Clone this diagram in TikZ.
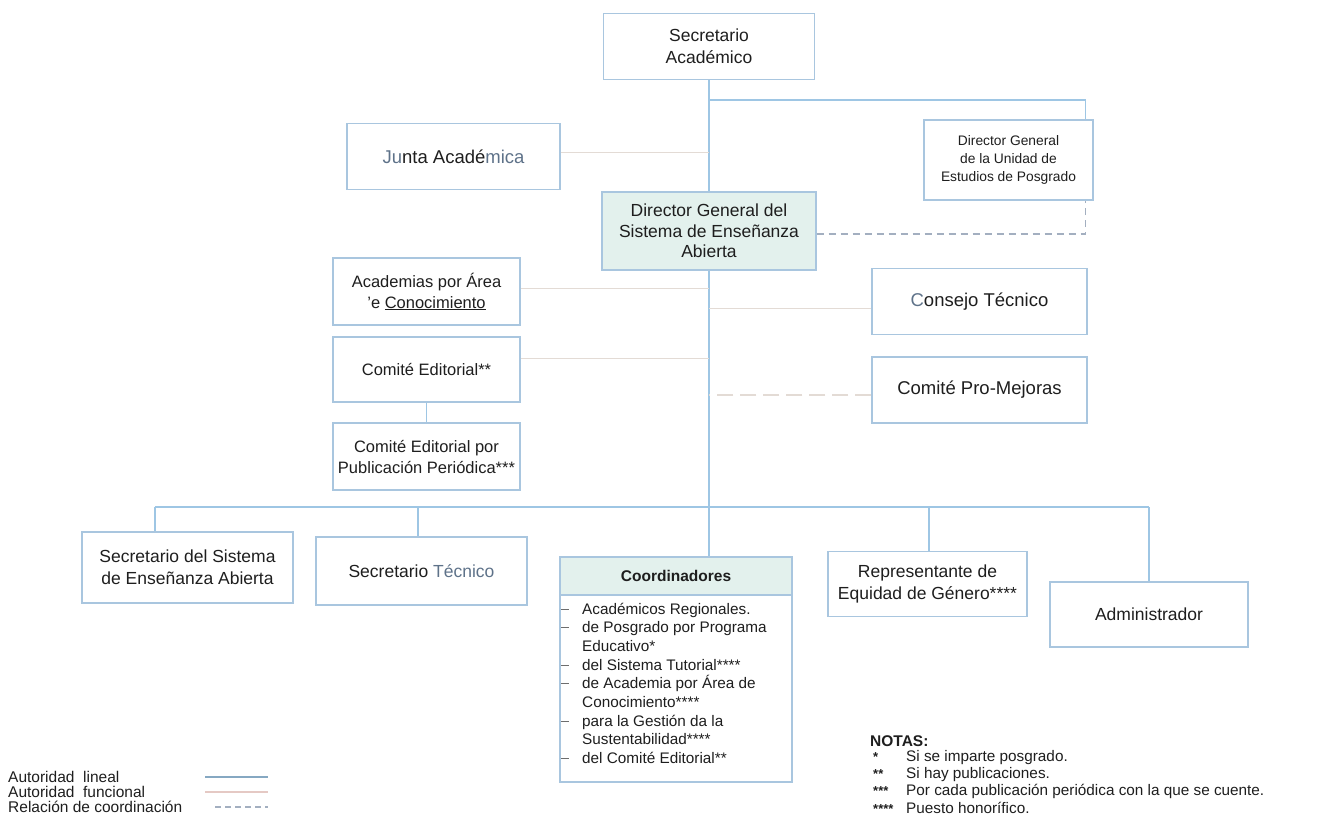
\documentclass[tikz,border=0pt]{standalone}
\usepackage{fontspec}
\setmainfont{Liberation Sans}
\definecolor{boxc}{HTML}{A9C6DF}
\definecolor{linec}{HTML}{9EC6E4}
\definecolor{func}{HTML}{E3DBD5}
\definecolor{coordc}{HTML}{A3AFC0}
\definecolor{fillc}{HTML}{E3F1ED}
\definecolor{txt}{HTML}{1E1E1E}
\definecolor{slate}{HTML}{5E7289}
\begin{document}
\begin{tikzpicture}[x=1pt,y=-1pt,
  box/.style={draw=boxc,line width=1.3pt,align=center,inner sep=0pt,text=txt,
    font=\fontsize{17.5}{22}\selectfont},
  lin/.style={draw=linec,line width=1.6pt},
  fun/.style={draw=func,line width=1.3pt},
  crd/.style={draw=coordc,line width=1.3pt,dash pattern=on 7pt off 5pt},
  lab/.style={inner sep=0pt,anchor=base west,text=txt}]
\useasboundingbox (0,0) rectangle (1341,822);
% boxes
\node[box,minimum width=211pt,minimum height=66pt] (sa) at (709,46.5) {Secretario\\Académico};
\node[box,minimum width=213pt,minimum height=66pt,font=\fontsize{18.5}{22}\selectfont] (ja) at (453.5,156.5) {\textcolor{slate}{Ju}nta Acadé\textcolor{slate}{mica}};
\node[box,minimum width=169pt,minimum height=80pt,font=\fontsize{13.8}{18}\selectfont] (dp) at (1008.5,160) {Director General\\de la Unidad de\\Estudios de Posgrado};
\node[box,fill=fillc,minimum width=214pt,minimum height=78pt,font=\fontsize{17.5}{20.5}\selectfont] (ds) at (709,231) {Director General del\\Sistema de Enseñanza\\Abierta};
\node[box,minimum width=187pt,minimum height=67pt,font=\fontsize{16.5}{21}\selectfont] (ac) at (426.5,291.5) {Academias por Área\\’e \underline{Conocimiento}};
\node[box,minimum width=187pt,minimum height=65pt,font=\fontsize{16.5}{21}\selectfont] (ce) at (426.5,369.5) {Comité Editorial**};
\node[box,minimum width=187pt,minimum height=67pt,font=\fontsize{16.5}{21}\selectfont] (cp) at (426.5,456.5) {Comité Editorial por\\Publicación Periódica***};
\node[box,minimum width=215pt,minimum height=66pt,font=\fontsize{18.5}{22}\selectfont] (ct) at (979.5,301.5) {\textcolor{slate}{C}onsejo Técnico};
\node[box,minimum width=215pt,minimum height=66pt,font=\fontsize{18.5}{22}\selectfont] (pm) at (979.5,390) {Comité Pro-Mejoras};
\node[box,minimum width=211pt,minimum height=71pt] (ss) at (187.5,567.5) {Secretario del Sistema\\de Enseñanza Abierta};
\node[box,minimum width=211pt,minimum height=68pt] (st) at (421.5,571) {Secretario \textcolor{slate}{Técnico}};
\node[box,fill=fillc,minimum width=232pt,minimum height=38pt,font=\bfseries\fontsize{15.5}{19}\selectfont] (co) at (676,576) {Coordinadores};
\node[box,minimum width=199pt,minimum height=65pt] (re) at (927.5,584) {Representante de\\Equidad de Género****};
\node[box,minimum width=198pt,minimum height=65pt] (ad) at (1149,614.5) {Administrador};
% coordinators list
\coordinate (cl1) at (560,595);
\coordinate (cl2) at (792,782);
\draw[draw=boxc,line width=1.3pt] (cl1) rectangle (cl2);
\foreach \k/\t in {0/Académicos Regionales.,1/de Posgrado por Programa,2/Educativo*,3/del Sistema Tutorial****,4/de Academia por Área de,5/Conocimiento****,6/para la Gestión da la,7/Sustentabilidad****,8/del Comité Editorial**}{
  \node[lab,font=\fontsize{15.3}{18}\selectfont] (cli\k) at (582,614+18.7*\k) {\t};
}
\foreach \k in {0,1,3,4,6,8}{
  \coordinate (tA\k) at (561,609+18.7*\k);
  \coordinate (tB\k) at (569,609+18.7*\k);
  \draw[draw=txt!65,line width=0.9pt] (tA\k) -- (tB\k);
}
% linear authority
\coordinate (s1) at (709,100);
\coordinate (bL) at (155,507);
\coordinate (b2) at (418,507);
\coordinate (bM) at (709,507);
\coordinate (b4) at (929,507);
\coordinate (bR) at (1149,507);
\draw[lin] (sa.south) -- (ds.north);
\draw[lin] (s1) -| ([xshift=-8pt]dp.north east);
\draw[lin] (ds.south) -- (bM);
\draw[lin] (bL) -- (bR);
\draw[lin] (bL) -- (bL |- ss.north);
\draw[lin] (b2) -- (b2 |- st.north);
\draw[lin] (bM) -- (bM |- co.north);
\draw[lin] (b4) -- (b4 |- re.north);
\draw[lin] (bR) -- (bR |- ad.north);
\draw[lin] (ce.south) -- (cp.north);
% functional authority
\draw[fun] ([yshift=4pt]ja.east) -- ([yshift=4pt]ja.east -| s1);
\draw[fun] ([yshift=3pt]ac.east) -- ([yshift=3pt]ac.east -| s1);
\draw[fun] ([yshift=11pt]ce.east) -- ([yshift=11pt]ce.east -| s1);
\draw[fun] ([yshift=-7pt]ct.west) -- ([yshift=-7pt]ct.west -| s1);
\draw[fun,dash pattern=on 16pt off 7pt] ([yshift=-5pt]pm.west) -- ([yshift=-5pt]pm.west -| s1);
% coordination
\draw[crd] ([yshift=-3pt]ds.east) -| ([xshift=-8pt]dp.south east);
% legend
\node[lab,font=\fontsize{15.5}{15}\selectfont] (l1) at (8,782) {Autoridad\ \ lineal};
\node[lab,font=\fontsize{15.5}{15}\selectfont] (l2) at (8,797) {Autoridad\ \ funcional};
\node[lab,font=\fontsize{15.5}{15}\selectfont] (l3) at (8,812) {Relación de coordinación};
\coordinate (g1a) at (205,777); \coordinate (g1b) at (268,777);
\coordinate (g2a) at (205,792); \coordinate (g2b) at (268,792);
\coordinate (g3a) at (215,807); \coordinate (g3b) at (268,807);
\draw[draw=linec!85!black,line width=1.2pt] (g1a) -- (g1b);
\draw[draw=func!92!red,line width=1.2pt] (g2a) -- (g2b);
\draw[draw=coordc,line width=1.2pt,dash pattern=on 6pt off 4pt] (g3a) -- (g3b);
% notes
\node[lab,font=\bfseries\fontsize{15.5}{15}\selectfont] (nt) at (870,746) {NOTAS:};
\foreach \y/\s/\t in {761/*/Si se imparte posgrado.,778/**/Si hay publicaciones.,795/***/Por cada publicación periódica con la que se cuente.,813/****/Puesto honorífico.}{
  \node[lab,font=\bfseries\fontsize{13}{13}\selectfont] at (873,\y) {\s};
  \node[lab,font=\fontsize{15.3}{15}\selectfont] at (906,\y) {\t};
}
\end{tikzpicture}
\end{document}
